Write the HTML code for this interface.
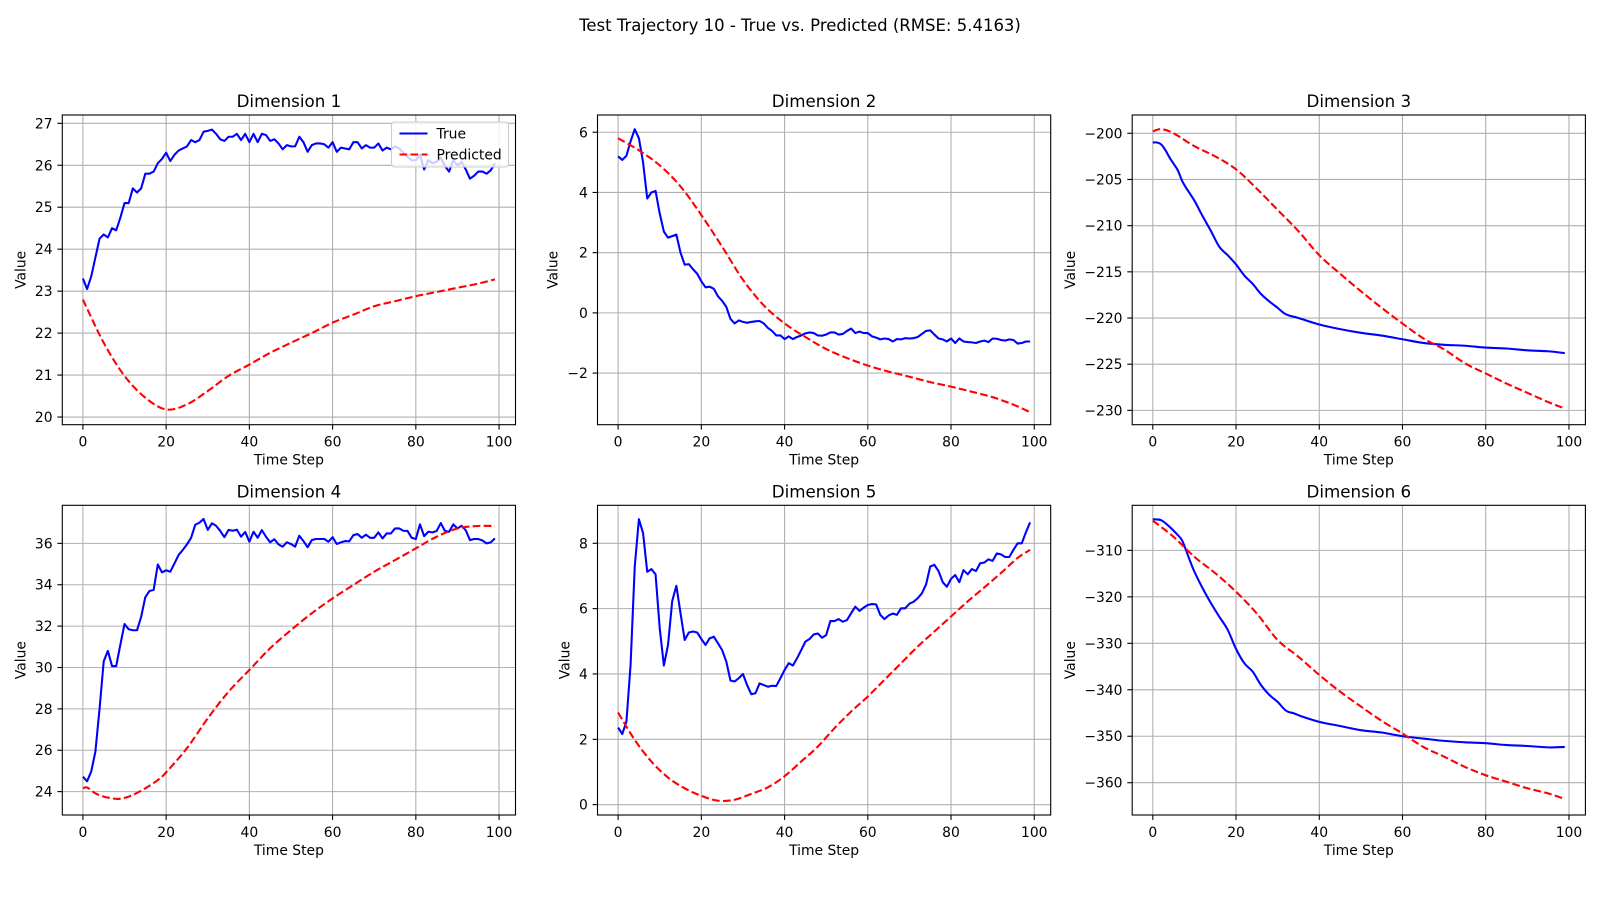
<!DOCTYPE html>
<html><head><meta charset="utf-8"><style>
html,body{margin:0;padding:0;background:#fff;}
svg{display:block;font-family:"DejaVu Sans","Liberation Sans",sans-serif;}
</style></head><body>
<svg id="fig" width="1600" height="900" viewBox="0 0 1600 900" xmlns="http://www.w3.org/2000/svg">
<text x="800" y="31" text-anchor="middle" font-size="16.5" fill="#000">Test Trajectory 10 - True vs. Predicted (RMSE: 5.4163)</text>
</svg>
<script>
// ---- data ----
const steps = [0,1,2,3,4,5,6,7,8,9,10,11,12,13,14,15,16,17,18,19,20,21,22,23,24,25,26,27,28,29,30,31,32,33,34,35,36,37,38,39,40,41,42,43,44,45,46,47,48,49,50,51,52,53,54,55,56,57,58,59,60,61,62,63,64,65,66,67,68,69,70,71,72,73,74,75,76,77,78,79,80,81,82,83,84,85,86,87,88,89,90,91,92,93,94,95,96,97,98,99];
const xTicks = [0,20,40,60,80,100];

const d1True = [23.3,23.05,23.35,23.8,24.25,24.35,24.28,24.5,24.45,24.75,25.1,25.1,25.45,25.35,25.45,25.8,25.8,25.85,26.05,26.15,26.3,26.1,26.25,26.35,26.4,26.45,26.6,26.55,26.6,26.8,26.82,26.85,26.75,26.62,26.58,26.68,26.68,26.75,26.6,26.75,26.55,26.75,26.55,26.75,26.72,26.58,26.62,26.52,26.38,26.48,26.45,26.45,26.68,26.55,26.32,26.48,26.52,26.52,26.5,26.42,26.55,26.32,26.42,26.4,26.38,26.55,26.55,26.4,26.48,26.42,26.42,26.52,26.35,26.42,26.38,26.45,26.4,26.3,26.2,26.12,26.12,26.25,25.9,26.12,26.05,26.08,26.18,25.98,25.85,26.12,26.0,26.08,25.9,25.68,25.75,25.85,25.85,25.8,25.88,26.05];
const d1PredX = [0,5,10,15,20,25,30,35,40,45,50,55,60,65,70,75,80,85,90,95,99];
const d1Pred = [22.8,21.77,20.98,20.46,20.18,20.3,20.62,20.98,21.25,21.53,21.77,22.0,22.25,22.44,22.64,22.76,22.88,22.98,23.08,23.18,23.28];

const d2True = [5.2,5.08,5.22,5.7,6.1,5.8,5.0,3.8,4.0,4.05,3.3,2.7,2.5,2.55,2.6,2.0,1.6,1.62,1.45,1.3,1.05,0.85,0.87,0.8,0.55,0.4,0.2,-0.2,-0.35,-0.25,-0.3,-0.33,-0.3,-0.28,-0.27,-0.35,-0.5,-0.6,-0.75,-0.75,-0.87,-0.78,-0.87,-0.8,-0.75,-0.68,-0.65,-0.67,-0.75,-0.76,-0.72,-0.65,-0.65,-0.72,-0.7,-0.6,-0.52,-0.67,-0.62,-0.67,-0.67,-0.78,-0.82,-0.88,-0.85,-0.87,-0.95,-0.87,-0.88,-0.84,-0.85,-0.84,-0.8,-0.7,-0.6,-0.58,-0.72,-0.85,-0.88,-0.95,-0.85,-1.0,-0.85,-0.95,-0.97,-0.98,-1.0,-0.95,-0.92,-0.97,-0.85,-0.86,-0.9,-0.92,-0.88,-0.9,-1.02,-1.0,-0.95,-0.95];
const d2PredX = [0,5,10,15,20,25,30,35,40,45,50,55,60,65,70,75,80,85,90,95,99];
const d2Pred = [5.8,5.4,4.9,4.2,3.25,2.2,1.1,0.25,-0.35,-0.8,-1.2,-1.5,-1.75,-1.95,-2.12,-2.3,-2.45,-2.62,-2.8,-3.05,-3.3];

const d3TrueX = [0,1,2,3,4,5,6,7,8,10,12,14,16,18,20,22,24,26,28,30,32,35,40,45,50,55,60,65,70,75,80,85,90,95,99];
const d3True = [-201,-201,-201.2,-201.8,-202.6,-203.3,-204,-205.1,-205.9,-207.3,-209,-210.6,-212.3,-213.2,-214.2,-215.4,-216.3,-217.4,-218.2,-218.9,-219.6,-220.0,-220.7,-221.2,-221.6,-221.9,-222.3,-222.7,-222.9,-223.0,-223.2,-223.3,-223.5,-223.6,-223.8];
const d3PredX = [0,2,5,10,15,20,25,30,35,40,45,50,55,60,65,70,75,80,85,90,95,99];
const d3Pred = [-199.8,-199.55,-200.0,-201.4,-202.5,-203.9,-206,-208.3,-210.6,-213.2,-215.2,-217.1,-218.9,-220.6,-222.2,-223.4,-224.9,-226,-227.1,-228.1,-229.1,-229.8];

const d4True = [24.72,24.5,24.97,25.93,28.0,30.3,30.8,30.07,30.07,31.1,32.1,31.85,31.8,31.8,32.45,33.4,33.7,33.75,34.98,34.6,34.7,34.63,35.03,35.44,35.68,35.95,36.27,36.9,37.0,37.18,36.65,36.97,36.85,36.6,36.3,36.65,36.61,36.66,36.32,36.55,36.08,36.56,36.27,36.64,36.32,36.05,36.2,35.95,35.84,36.05,35.97,35.84,36.37,36.11,35.81,36.16,36.21,36.21,36.21,36.08,36.3,35.97,36.05,36.11,36.1,36.4,36.45,36.27,36.42,36.27,36.27,36.53,36.24,36.48,36.48,36.72,36.72,36.61,36.6,36.27,36.21,36.92,36.35,36.56,36.53,36.6,36.98,36.6,36.56,36.92,36.72,36.85,36.63,36.16,36.21,36.21,36.14,36.0,36.05,36.24];
const d4PredX = [0,1,3,5,8,10,12,15,18,20,25,30,35,40,45,50,55,60,65,70,75,80,85,90,95,99];
const d4Pred = [24.16,24.2,23.92,23.76,23.65,23.7,23.84,24.16,24.56,24.93,26.1,27.54,28.83,29.88,30.93,31.81,32.62,33.34,33.99,34.63,35.19,35.76,36.32,36.72,36.84,36.84];

const d5True = [2.36,2.16,2.54,4.28,7.29,8.74,8.31,7.13,7.21,7.05,5.4,4.26,4.89,6.23,6.7,5.86,5.04,5.27,5.3,5.27,5.07,4.89,5.09,5.14,4.94,4.73,4.38,3.8,3.77,3.87,4.0,3.66,3.38,3.41,3.71,3.66,3.61,3.64,3.63,3.87,4.12,4.33,4.26,4.48,4.73,4.99,5.07,5.21,5.24,5.11,5.19,5.62,5.62,5.68,5.6,5.65,5.86,6.06,5.93,6.03,6.11,6.14,6.13,5.81,5.68,5.79,5.85,5.81,6.01,6.01,6.15,6.21,6.32,6.47,6.74,7.29,7.34,7.15,6.81,6.67,6.91,7.03,6.81,7.18,7.05,7.21,7.15,7.39,7.41,7.51,7.46,7.69,7.66,7.58,7.58,7.8,8.0,8.0,8.34,8.64];
const d5PredX = [0,4,8,12,16,20,24,28,32,36,40,44,48,52,56,60,64,68,72,76,80,84,88,92,96,99];
const d5Pred = [2.82,1.98,1.32,0.83,0.5,0.27,0.12,0.15,0.33,0.53,0.87,1.32,1.78,2.34,2.85,3.31,3.82,4.33,4.84,5.3,5.76,6.22,6.65,7.09,7.55,7.8];

const d6TrueX = [0,2,4,6,7,8,9,10,12,14,16,18,20,22,24,26,28,30,32,34,36,40,45,50,55,60,65,70,75,80,85,90,95,99];
const d6True = [-303.3,-303.5,-304.9,-306.7,-307.8,-310,-312.4,-314.6,-318.2,-321.4,-324.3,-327.1,-331.2,-334.3,-336.1,-339,-341.1,-342.6,-344.5,-345.1,-345.8,-346.9,-347.8,-348.7,-349.2,-350,-350.5,-351,-351.3,-351.5,-351.9,-352.1,-352.4,-352.3];
const d6PredX = [0,5,10,15,20,25,30,35,40,45,50,55,60,65,70,75,80,85,90,95,99];
const d6Pred = [-303.6,-307.1,-311.4,-314.9,-318.9,-323.6,-329.3,-332.9,-336.8,-340.4,-343.6,-346.7,-349.4,-352.3,-354.4,-356.6,-358.4,-359.8,-361.2,-362.3,-363.5];

const d1Ticks = [20,21,22,23,24,25,26,27];
const d2Ticks = [-2,0,2,4,6];
const d3Ticks = [-230,-225,-220,-215,-210,-205,-200];
const d4Ticks = [24,26,28,30,32,34,36];
const d5Ticks = [0,2,4,6,8];
const d6Ticks = [-360,-350,-340,-330,-320,-310];

// ---- layout ----
const NS = "http://www.w3.org/2000/svg";
const fig = document.getElementById('fig');
const lefts = [62.3, 597.5, 1132.2];
const tops = [115, 505.3];
const W = 453.2, H = 309.7;
const XLIM = [-4.95, 103.95];

const panels = [
  {title:'Dimension 1', tx:steps, t:d1True, px:d1PredX, p:d1Pred, ticks:d1Ticks, ylim:[19.817,27.198], lab:42, legend:true},
  {title:'Dimension 2', tx:steps, t:d2True, px:d2PredX, p:d2Pred, ticks:d2Ticks, ylim:[-3.714,6.573], lab:45},
  {title:'Dimension 3', tx:d3TrueX, t:d3True, px:d3PredX, p:d3Pred, ticks:d3Ticks, ylim:[-231.55,-198.02], lab:62, smoothTrue:true},
  {title:'Dimension 4', tx:steps, t:d4True, px:d4PredX, p:d4Pred, ticks:d4Ticks, ylim:[22.87,37.84], lab:42},
  {title:'Dimension 5', tx:steps, t:d5True, px:d5PredX, p:d5Pred, ticks:d5Ticks, ylim:[-0.317,9.163], lab:33},
  {title:'Dimension 6', tx:d6TrueX, t:d6True, px:d6PredX, p:d6Pred, ticks:d6Ticks, ylim:[-366.95,-300.3], lab:62, smoothTrue:true}
];

function mk(tag, attrs, parent){
  const e = document.createElementNS(NS, tag);
  for (const k in attrs) e.setAttribute(k, attrs[k]);
  (parent||fig).appendChild(e);
  return e;
}
function fmt(v){ return v < 0 ? '\u2212' + Math.abs(v) : String(v); }
function smoothPath(P){
  let d = 'M' + P[0][0].toFixed(2) + ',' + P[0][1].toFixed(2);
  for (let i = 0; i < P.length - 1; i++) {
    const p0 = P[Math.max(0, i - 1)], p1 = P[i], p2 = P[i + 1], p3 = P[Math.min(P.length - 1, i + 2)];
    const c1x = p1[0] + (p2[0] - p0[0]) / 6, c1y = p1[1] + (p2[1] - p0[1]) / 6;
    const c2x = p2[0] - (p3[0] - p1[0]) / 6, c2y = p2[1] - (p3[1] - p1[1]) / 6;
    d += ' C' + c1x.toFixed(2) + ',' + c1y.toFixed(2) + ' ' + c2x.toFixed(2) + ',' + c2y.toFixed(2) + ' ' + p2[0].toFixed(2) + ',' + p2[1].toFixed(2);
  }
  return d;
}
function linePath(P){
  return P.map((p, k) => (k ? 'L' : 'M') + p[0].toFixed(2) + ',' + p[1].toFixed(2)).join(' ');
}

panels.forEach((pn, i) => {
  const L = lefts[i % 3], T = tops[Math.floor(i / 3)];
  const sx = v => L + (v - XLIM[0]) / (XLIM[1] - XLIM[0]) * W;
  const sy = v => T + H - (v - pn.ylim[0]) / (pn.ylim[1] - pn.ylim[0]) * H;
  const g = mk('g', {});
  
  
  const clip = mk('clipPath', {id: 'clip' + i}, g);
  mk('rect', {x: L, y: T, width: W, height: H}, clip);
  xTicks.forEach(v => {
    const x = sx(v);
    const gl = mk('line', {x1: x, x2: x, y1: T, y2: T + H, stroke: '#b0b0b0', 'stroke-width': 1.1}, g);
    
    
    mk('line', {x1: x, x2: x, y1: T + H, y2: T + H + 4.9, stroke: '#000', 'stroke-width': 1.1}, g);
    const tl = mk('text', {x: x, y: T + H + 22, 'text-anchor': 'middle', 'font-size': 13.9, fill: '#000'}, g);
    tl.textContent = fmt(v);
    
    
  });
  pn.ticks.forEach(v => {
    const y = sy(v);
    const gl = mk('line', {x1: L, x2: L + W, y1: y, y2: y, stroke: '#b0b0b0', 'stroke-width': 1.1}, g);
    
    
    mk('line', {x1: L - 4.9, x2: L, y1: y, y2: y, stroke: '#000', 'stroke-width': 1.1}, g);
    const tl = mk('text', {x: L - 9.7, y: y + 5, 'text-anchor': 'end', 'font-size': 13.9, fill: '#000'}, g);
    tl.textContent = fmt(v);
    
    
  });
  const tP = pn.tx.map((s, k) => [sx(s), sy(pn.t[k])]);
  const tl = mk('path', {d: pn.smoothTrue ? smoothPath(tP) : linePath(tP), fill: 'none', stroke: '#0000ff', 'stroke-width': 2.08, 'stroke-linejoin': 'round', 'clip-path': 'url(#clip' + i + ')'}, g);
  
  
  const pP = pn.px.map((s, k) => [sx(s), sy(pn.p[k])]);
  const pl = mk('path', {d: smoothPath(pP), fill: 'none', stroke: '#ff0000', 'stroke-width': 2.08, 'stroke-dasharray': '7.7 3.3', 'clip-path': 'url(#clip' + i + ')'}, g);
  
  
  mk('rect', {x: L, y: T, width: W, height: H, fill: 'none', stroke: '#000', 'stroke-width': 1.1}, g);
  const tt = mk('text', {x: L + W / 2, y: T - 8, 'text-anchor': 'middle', 'font-size': 16.7, fill: '#000'}, g);
  tt.textContent = pn.title;
  
  
  const xl = mk('text', {x: L + W / 2, y: T + H + 40, 'text-anchor': 'middle', 'font-size': 13.9, fill: '#000'}, g);
  xl.textContent = 'Time Step';
  
  
  const yx = L - pn.lab, yy = T + H / 2;
  const yl = mk('text', {x: yx, y: yy, 'text-anchor': 'middle', 'font-size': 13.9, fill: '#000', transform: 'rotate(-90 ' + yx + ' ' + yy + ')', dy: '5'}, g);
  yl.textContent = 'Value';
  
  
  if (pn.legend) {
    const lg = mk('g', {}, g);
    
    
    const lx = L + W - 124, ly = T + 7;
    mk('rect', {x: lx, y: ly, width: 117, height: 45, rx: 3, fill: '#fff', 'fill-opacity': 0.8, stroke: '#cccccc', 'stroke-width': 1.1}, lg);
    const e1 = mk('g', {}, lg);
    
    
    mk('line', {x1: lx + 8, x2: lx + 36, y1: ly + 11.5, y2: ly + 11.5, stroke: '#0000ff', 'stroke-width': 2.08}, e1);
    const t1 = mk('text', {x: lx + 45, y: ly + 16.5, 'font-size': 13.9, fill: '#000'}, e1);
    t1.textContent = 'True';
    const e2 = mk('g', {}, lg);
    
    
    mk('line', {x1: lx + 8, x2: lx + 36, y1: ly + 32.5, y2: ly + 32.5, stroke: '#ff0000', 'stroke-width': 2.08, 'stroke-dasharray': '7.7 3.3'}, e2);
    const t2 = mk('text', {x: lx + 45, y: ly + 37.5, 'font-size': 13.9, fill: '#000'}, e2);
    t2.textContent = 'Predicted';
  }
});
</script>
</body></html>
